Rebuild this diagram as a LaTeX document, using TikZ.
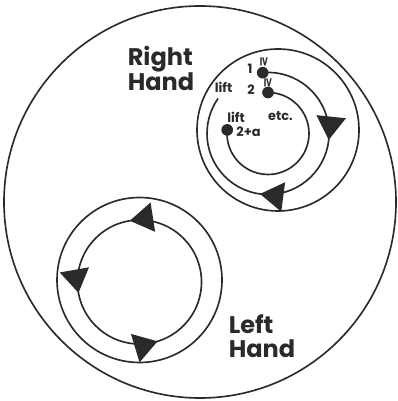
\documentclass[tikz,border=0pt]{standalone}
\usepackage{fontspec}
\setmainfont{Poppins}
\newfontfamily\signfont{DejaVu Sans}
\usetikzlibrary{arrows.meta,decorations.markings}
\definecolor{ink}{HTML}{2A2A2A}
\newcommand{\bigtip}{\arrow{Triangle[length=7mm,width=8.8mm]}}

\begin{document}
\begin{tikzpicture}[x=0.03cm, y=0.03cm, line width=1.4pt, color=ink,
    every node/.style={font=\bfseries\fontsize{11}{12}\selectfont},
    handlabel/.style={align=left, anchor=north west, inner sep=0pt, font=\bfseries\fontsize{20.5}{20.4}\selectfont},
    startdot/.style={circle, fill=ink, inner sep=0pt, minimum size=3.5mm},
    sign/.style={rotate=-90, inner sep=0pt, font=\signfont\bfseries\fontsize{11}{12}\selectfont}]
    \useasboundingbox (0,0) rectangle (397,401);
    \draw (200,199) circle[radius=196];
    % right hand
    \draw (278,271) circle[radius=81];
    \node[startdot] (one) at (262.7,328.3) {};
    \node[startdot] (two) at (268,308.5) {};
    \node[startdot] (twoa) at (227.2,271.1) {};
    \draw[postaction=decorate, decoration={markings, mark=at position 0.326 with {\bigtip}, mark=at position 0.621 with {\bigtip}}]
        (one.center) arc[start angle=95, end angle=-215, radius=61];
    \draw (two.center) arc[start angle=90, end angle=-185, radius=41];
    \node (lbl1) at (250,332) {1};
    \node[sign] (sign1) at (264,339) {≥};
    \node (lbl2) at (251,311) {2};
    \node[sign] (sign2) at (268,318.5) {≥};
    \node (liftout) at (223.5,313.5) {lift};
    \node (liftin) at (236,284) {lift};
    \node (etc) at (280.5,285) {etc.};
    \node (lbl2a) at (248.5,269) {2+a};
    \node[handlabel] (righthand) at (127,356) {Right\\Hand};
    % left hand
    \draw (139.5,121) circle[radius=82.5];
    \draw[postaction=decorate, decoration={markings, mark=at position 0.275 with {\bigtip}, mark=at position 0.528 with {\bigtip}, mark=at position 0.797 with {\bigtip}}]
        (201.5,119) arc[start angle=0, end angle=360, radius=62];
    \node[handlabel] (lefthand) at (228,87) {Left\\Hand};
\end{tikzpicture}
\end{document}
